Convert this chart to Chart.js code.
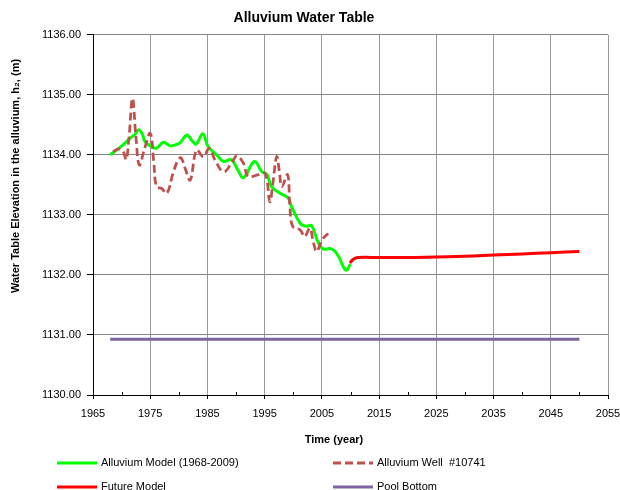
<!DOCTYPE html>
<html><head><meta charset="utf-8">
<script src="https://cdn.jsdelivr.net/npm/chart.js@4.4.1/dist/chart.umd.min.js"></script>
<style>html,body{margin:0;padding:0;background:#fff}</style>
</head><body>
<canvas id="c" width="620" height="490"></canvas>
<script>
const chartTitle = 'Alluvium Water Table';
const xTitle = 'Time (year)';
const yTitle = 'Water Table Elevation in the alluvium, h\u2082, (m)';
const seriesLabels = ['Alluvium Model (1968-2009)', 'Alluvium Well  #10741', 'Future Model', 'Pool Bottom'];

const modelYears  = [1968.0,1969.0,1970.3,1971.5,1972.3,1973.0,1973.6,1974.1,1975.0,1976.1,1977.3,1978.5,1979.5,1980.2,1981.4,1982.2,1983.0,1984.2,1985.1,1986.6,1987.8,1989.2,1990.3,1991.3,1993.2,1994.5,1995.4,1996.2,1997.7,1999.1,1999.7,2001.2,2002.3,2003.2,2004.4,2005.3,2006.4,2007.2,2007.9,2009.2,2010.0];
const modelValues = [1134.00,1134.07,1134.17,1134.28,1134.34,1134.42,1134.35,1134.22,1134.15,1134.11,1134.21,1134.15,1134.17,1134.20,1134.33,1134.25,1134.18,1134.35,1134.14,1134.00,1133.89,1133.92,1133.75,1133.62,1133.89,1133.72,1133.67,1133.47,1133.36,1133.28,1133.14,1132.86,1132.81,1132.82,1132.53,1132.43,1132.44,1132.40,1132.31,1132.08,1132.18];

const wellYears  = [1968.5,1969.5,1970.3,1970.8,1971.3,1971.9,1972.5,1973.1,1974.0,1975.0,1975.6,1976.1,1977.0,1977.9,1979.0,1979.9,1980.4,1981.2,1982.0,1983.1,1984.3,1985.3,1986.3,1987.8,1989.2,1990.1,1991.3,1992.1,1993.9,1995.1,1995.9,1996.4,1997.1,1997.6,1998.0,1999.0,1999.4,1999.9,2001.2,2002.0,2002.9,2003.5,2004.1,2005.0,2006.1];
const wellValues = [1134.05,1134.10,1134.05,1133.92,1134.30,1134.94,1134.30,1133.83,1134.10,1134.36,1133.90,1133.47,1133.44,1133.36,1133.70,1133.92,1133.95,1133.75,1133.58,1134.08,1133.97,1134.11,1133.92,1133.72,1133.86,1133.98,1133.86,1133.64,1133.67,1133.69,1133.22,1133.50,1133.97,1133.70,1133.47,1133.67,1133.14,1132.81,1132.75,1132.64,1132.78,1132.55,1132.39,1132.58,1132.69];

const futureYears  = [2009.9,2010.5,2011.3,2015,2020,2025,2030,2035,2040,2045,2050];
const futureValues = [1132.20,1132.26,1132.29,1132.29,1132.29,1132.30,1132.31,1132.33,1132.35,1132.37,1132.39];

const poolYears  = [1968, 2050];
const poolValues = [1130.93, 1130.93];

const xTicks = [1965,1975,1985,1995,2005,2015,2025,2035,2045,2055];
const yTicks = [1130,1131,1132,1133,1134,1135,1136];

const FONT = '"Liberation Sans", Arial, sans-serif';
const pts = (xs, ys) => xs.map((x, i) => ({x, y: ys[i]}));

const extras = {
  id: 'extras',
  afterDraw(chart) {
    const ctx = chart.ctx, xs = chart.scales.x, ys = chart.scales.y;
    ctx.save();
    // minor ticks
    ctx.strokeStyle = '#000'; ctx.lineWidth = 1;
    for (let v = 1970; v < 2055; v += 10) {
      const px = Math.round(xs.getPixelForValue(v)) + 0.5;
      ctx.beginPath(); ctx.moveTo(px, ys.bottom); ctx.lineTo(px, ys.bottom - 3); ctx.stroke();
    }
    ctx.fillStyle = '#000';
    ctx.font = 'bold 11px ' + FONT;
    ctx.textAlign = 'center'; ctx.textBaseline = 'middle';
    ctx.fillText(xTitle, 334, 440);
    const w = ctx.measureText(yTitle).width;
    ctx.translate(16, 293 - w / 2); ctx.rotate(-Math.PI / 2);
    ctx.fillText(yTitle, 0, 0);
    ctx.restore();
    // legend
    ctx.save();
    ctx.font = '11px ' + FONT; ctx.textBaseline = 'middle'; ctx.textAlign = 'left'; ctx.fillStyle = '#000';
    const pos = [[57, 463], [333, 463], [57, 487], [333, 487]];
    chart.data.datasets.forEach((d, i) => {
      const [lx, ly] = pos[i];
      ctx.strokeStyle = d.borderColor; ctx.lineWidth = 3;
      ctx.setLineDash(d.borderDash || []);
      ctx.beginPath(); ctx.moveTo(lx, ly); ctx.lineTo(lx + 40, ly); ctx.stroke();
      ctx.setLineDash([]);
      ctx.fillText(d.label, lx + 44, ly);
    });
    ctx.restore();
  }
};

new Chart(document.getElementById('c'), {
  type: 'line',
  data: {
    datasets: [
      {label: seriesLabels[0], data: pts(modelYears, modelValues), borderColor: '#00FF00', borderWidth: 3, tension: 0.4, pointRadius: 0, order: 2},
      {label: seriesLabels[1], data: pts(wellYears, wellValues), borderColor: '#C0504D', borderWidth: 2.75, borderDash: [8, 4], tension: 0.4, pointRadius: 0, order: 1},
      {label: seriesLabels[2], data: pts(futureYears, futureValues), borderColor: '#FF0000', borderWidth: 3, tension: 0.4, pointRadius: 0, order: 3},
      {label: seriesLabels[3], data: pts(poolYears, poolValues), borderColor: '#8064A2', borderWidth: 3, tension: 0, pointRadius: 0, order: 4}
    ]
  },
  options: {
    responsive: false, animation: false, devicePixelRatio: 1,
    layout: {padding: {left: 0, right: 12, top: 0, bottom: 70}},
    plugins: {
      legend: {display: false},
      tooltip: {enabled: false},
      title: {display: true, text: chartTitle, color: '#000', font: {family: FONT, size: 14, weight: 'bold'}, padding: {top: 10, bottom: 8}}
    },
    scales: {
      x: {
        type: 'linear', min: 1965, max: 2055,
        afterBuildTicks(s) { s.ticks = xTicks.map(v => ({value: v})); },
        afterFit(s) { s.height = 25; s.paddingLeft = 0; s.paddingRight = 0; },
        ticks: {color: '#000', font: {family: FONT, size: 11}, padding: 8, maxRotation: 0, callback: v => String(v)},
        grid: {color: '#9a9a9a', tickColor: '#000', tickLength: 4, lineWidth: 1},
        border: {color: '#000', width: 1}
      },
      y: {
        min: 1130, max: 1136,
        afterBuildTicks(s) { s.ticks = yTicks.map(v => ({value: v})); },
        afterFit(s) { s.width = 93; },
        ticks: {color: '#000', font: {family: FONT, size: 11}, padding: 6, callback: v => Number(v).toFixed(2)},
        grid: {color: '#868686', tickColor: '#000', tickLength: 6, lineWidth: 1},
        border: {color: '#000', width: 1}
      }
    }
  },
  plugins: [extras]
});
</script>
</body></html>
